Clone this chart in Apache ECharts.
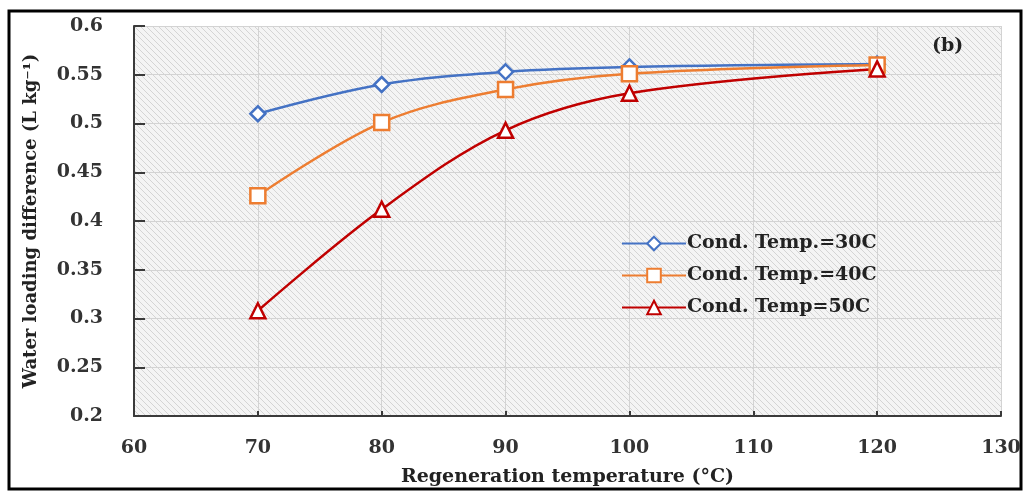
<!DOCTYPE html>
<html><head><meta charset="utf-8">
<script src="https://cdn.jsdelivr.net/npm/echarts@6/dist/echarts.min.js"></script>
<style>html,body{margin:0;padding:0;background:#fff}#c{width:1027px;height:491px}</style>
</head><body><div id="c"></div>
<script>
const xValues = [70, 80, 90, 100, 120];
const cond30 = [0.510, 0.540, 0.553, 0.558, 0.561];
const cond40 = [0.426, 0.501, 0.535, 0.551, 0.560];
const cond50 = [0.308, 0.412, 0.493, 0.531, 0.556];
const seriesNames = ['Cond. Temp.=30C', 'Cond. Temp.=40C', 'Cond. Temp=50C'];
const xTitle = 'Regeneration temperature (°C)';
const yTitle = 'Water loading difference (L kg⁻¹)';
const panelLabel = '(b)';

const pc = document.createElement('canvas');
pc.width = 6; pc.height = 6;
const g = pc.getContext('2d');
g.fillStyle = '#f4f4f4'; g.fillRect(0,0,6,6);
g.strokeStyle = '#d4d4d4'; g.lineWidth = 1;
g.beginPath();
g.moveTo(-1,-1); g.lineTo(7,7);
g.moveTo(-1,5); g.lineTo(1,7);
g.moveTo(5,-1); g.lineTo(7,1);
g.stroke();

const font = '"DejaVu Serif", "Liberation Serif", serif';
const pair = v => v.map((y,i)=>[xValues[i], y]);
const chart = echarts.init(document.getElementById('c'));
const mk = (name, data, color, symbol, size) => ({
  name, type: 'line', data: pair(data), smooth: 0.35,
  symbol, symbolSize: size,
  lineStyle: {color, width: 2.5},
  itemStyle: {color: '#fff', borderColor: color, borderWidth: 2.5},
  emphasis: {disabled: true}
});
chart.setOption({
  animation: false,
  grid: {left: 134, right: 26, top: 26, bottom: 75, show: true, outerBoundsMode: 'none', containLabel: false,
    backgroundColor: {image: pc, repeat: 'repeat'}, borderWidth: 0},
  xAxis: {type: 'value', min: 60, max: 130, interval: 10,
    name: xTitle, nameLocation: 'middle', nameGap: 52,
    nameTextStyle: {fontFamily: font, fontWeight: 'bold', fontSize: 19, color: '#222'},
    axisLine: {lineStyle: {color: '#3a3a3a', width: 2}},
    axisTick: {show: true, inside: true, length: 5, lineStyle: {color: '#3a3a3a', width: 2}},
    axisLabel: {fontFamily: font, fontWeight: 'bold', fontSize: 19, color: '#333', margin: 23},
    splitLine: {show: true, lineStyle: {color: '#d3d3d3', width: 1}}},
  yAxis: {type: 'value', min: 0.2, max: 0.6, interval: 0.05,
    name: yTitle, nameLocation: 'middle', nameGap: 94, nameRotate: 90,
    nameTextStyle: {fontFamily: font, fontWeight: 'bold', fontSize: 18, color: '#222'},
    axisLine: {show: true, lineStyle: {color: '#3a3a3a', width: 2}},
    axisTick: {show: true, inside: true, length: 11, lineStyle: {color: '#3a3a3a', width: 2}},
    axisLabel: {fontFamily: font, fontWeight: 'bold', fontSize: 19, color: '#333', margin: 31,
      formatter: v => String(+v.toFixed(2))},
    splitLine: {show: true, lineStyle: {color: '#d3d3d3', width: 1}}},
  legend: {orient: 'vertical', left: 616, top: 229, itemGap: 13, itemWidth: 64, itemHeight: 17,
    textStyle: {fontFamily: font, fontWeight: 'bold', fontSize: 19, color: '#222', padding: [0,0,0,-4]},
    data: seriesNames},
  graphic: [
    {type: 'rect', shape: {x: 9, y: 11, width: 1012, height: 478},
     style: {fill: 'none', stroke: '#000', lineWidth: 3}, silent: true},
    {type: 'text', left: 932, top: 37, style: {text: panelLabel, font: 'bold 19px ' + font, fill: '#222'}}
  ],
  series: [
    mk(seriesNames[0], cond30, '#4472C4', 'diamond', 15),
    mk(seriesNames[1], cond40, '#ED7D31', 'rect', 15),
    mk(seriesNames[2], cond50, '#C00000', 'triangle', 15)
  ]
});
</script></body></html>
